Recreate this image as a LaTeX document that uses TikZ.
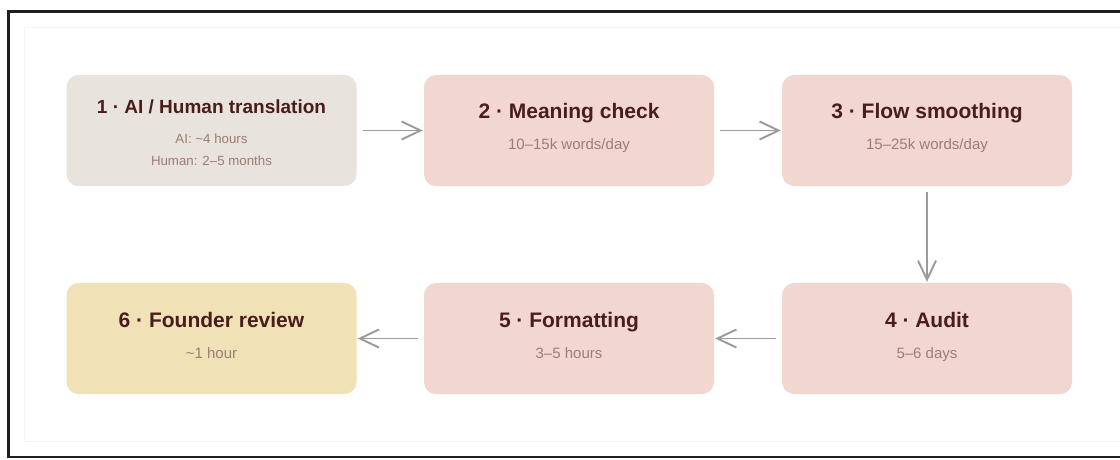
\documentclass[tikz,border=0pt]{standalone}
\usepackage{fontspec}
\setmainfont{Liberation Sans}
\usepackage{xcolor}
\usetikzlibrary{arrows.meta,positioning}
\definecolor{frame}{HTML}{1E1E1E}
\definecolor{faint}{HTML}{F3F3F3}
\definecolor{ink}{HTML}{4A1D1D}
\definecolor{muted}{HTML}{9C7C76}
\definecolor{wire}{HTML}{9A9A9A}
\definecolor{stone}{HTML}{E9E3DE}
\definecolor{rose}{HTML}{F2D7D0}
\definecolor{sand}{HTML}{F0E2B6}
\tikzset{
  stage/.style={rounded corners=12pt, minimum width=290pt, minimum height=111pt, inner sep=0pt},
  head/.style={anchor=base, inner sep=0pt, text=ink, font=\bfseries\fontsize{21}{25}\selectfont},
  note/.style={anchor=base, inner sep=0pt, text=muted, font=\fontsize{15}{18}\selectfont},
  flow/.style={-{Straight Barb[length=19pt,width=18pt,line width=1.9pt]}, line width=1.9pt,
    draw=wire, shorten <=6pt, shorten >=1pt}
}

\begin{document}
\begin{tikzpicture}[x=1pt,y=-1pt]
  \useasboundingbox (0,0) rectangle (1120,459);
  \fill[white] (0,0) rectangle (1120,459);
  \draw[faint, line width=1pt] (24,27) rectangle (1130,441);
  \draw[frame, line width=2.2pt] (1130,11.5) -- (8.5,11.5) -- (8.5,457) -- (1130,457);

  % top row
  \node[stage, fill=stone] (s1) at (211.5,130.5) {};
  \node[head, font=\bfseries\fontsize{19}{23}\selectfont] (s1h) at ([yshift=17.5pt]s1.center)
    {1 · AI / Human translation};
  \node[note, font=\fontsize{13.3}{16}\selectfont] (s1n) at ([yshift=-12.5pt]s1.center)
    {AI: \textasciitilde 4 hours};
  \node[note, font=\fontsize{13.3}{16}\selectfont] (s1m) at ([yshift=-34.5pt]s1.center)
    {Human: 2–5 months};

  \node[stage, fill=rose] (s2) at (569,130.5) {};
  \node[head] (s2h) at ([yshift=12.5pt]s2.center) {2 · Meaning check};
  \node[note] (s2n) at ([yshift=-18.5pt]s2.center) {10–15k words/day};

  \node[stage, fill=rose] (s3) at (927,130.5) {};
  \node[head] (s3h) at ([yshift=12.5pt]s3.center) {3 · Flow smoothing};
  \node[note] (s3n) at ([yshift=-18.5pt]s3.center) {15–25k words/day};

  % bottom row
  \node[stage, fill=rose] (s4) at (927,338.5) {};
  \node[head] (s4h) at ([yshift=11.5pt]s4.center) {4 · Audit};
  \node[note] (s4n) at ([yshift=-19.5pt]s4.center) {5–6 days};

  \node[stage, fill=rose] (s5) at (569,338.5) {};
  \node[head] (s5h) at ([yshift=11.5pt]s5.center) {5 · Formatting};
  \node[note] (s5n) at ([yshift=-19.5pt]s5.center) {3–5 hours};

  \node[stage, fill=sand] (s6) at (211.5,338.5) {};
  \node[head] (s6h) at ([yshift=11.5pt]s6.center) {6 · Founder review};
  \node[note] (s6n) at ([yshift=-19.5pt]s6.center) {\textasciitilde 1 hour};

  % connectors
  \draw[flow] (s1) -- (s2);
  \draw[flow] (s2) -- (s3);
  \draw[flow] (s3) -- (s4);
  \draw[flow] (s4) -- (s5);
  \draw[flow] (s5) -- (s6);
\end{tikzpicture}
\end{document}
